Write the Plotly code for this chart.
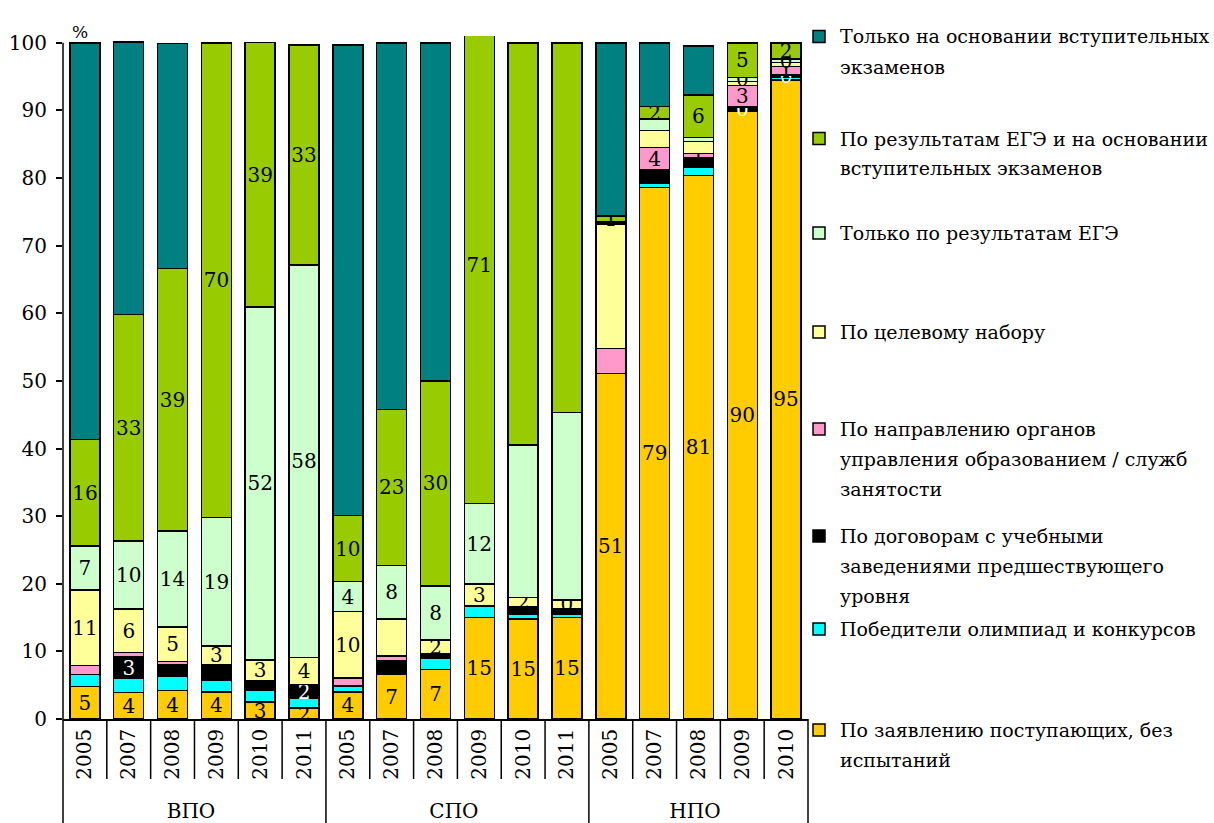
import plotly.graph_objects as go

# категории: уровень образования и год
groups = ["ВПО"] * 6 + ["СПО"] * 6 + ["НПО"] * 5
years = ["2005", "2007", "2008", "2009", "2010", "2011",
         "2005", "2007", "2008", "2009", "2010", "2011",
         "2005", "2007", "2008", "2009", "2010"]

# доли поступивших, % (снизу вверх)
bez_ispytaniy = [4.8, 3.9, 4.2, 4.0, 2.5, 1.6, 4.0, 6.6, 7.3, 15.0, 14.8, 15.0, 51.1, 78.6, 80.4, 89.8, 94.5]
olimpiady = [1.8, 2.1, 2.1, 1.7, 1.75, 1.4, 0.9, 0.0, 1.7, 1.7, 0.7, 0.5, 0.0, 0.6, 1.2, 0.0, 0.4]
dogovory = [0.0, 3.2, 1.7, 2.3, 1.4, 2.1, 0.0, 2.0, 0.7, 0.0, 1.1, 0.8, 0.0, 2.0, 1.4, 0.7, 0.3]
napravlenie = [1.3, 0.6, 0.5, 0.0, 0.0, 0.0, 1.2, 0.7, 0.0, 0.0, 0.0, 0.0, 3.7, 3.3, 0.6, 3.2, 1.3]
celevoy = [11.2, 6.5, 5.1, 2.8, 3.1, 4.0, 9.8, 5.5, 2.0, 3.3, 1.4, 1.3, 18.4, 2.5, 1.8, 0.6, 0.6]
tolko_ege = [6.5, 10.0, 14.2, 19.0, 52.2, 58.0, 4.4, 7.9, 8.0, 11.9, 22.5, 27.7, 0.3, 1.7, 0.6, 0.6, 0.5]
ege_i_ekzameny = [15.7, 33.5, 38.8, 70.2, 39.1, 32.6, 9.8, 23.1, 30.3, 70.5, 59.5, 54.7, 0.9, 1.9, 6.3, 5.1, 2.4]
tolko_ekzameny = [58.7, 40.3, 33.3, 0.0, 0.0, 0.0, 69.6, 54.2, 50.0, 0.0, 0.0, 0.0, 25.6, 9.4, 7.2, 0.0, 0.0]

# подписи значений (как на исходной диаграмме)
lbl_bez = ["5", "4", "4", "4", "3", "2", "4", "7", "7", "15", "15", "15", "51", "79", "81", "90", "95"]
lbl_olimp = [""] * 17
lbl_dogov = ["", "3", "", "", "", "2", "", "", "", "", "", "", "", "", "", "0", "0"]
lbl_naprav = ["", "", "", "", "", "", "", "", "", "", "", "", "", "4", "1", "3", "1"]
lbl_celev = ["11", "6", "5", "3", "3", "4", "10", "", "2", "3", "2", "0", "", "", "", "", ""]
lbl_ege = ["7", "10", "14", "19", "52", "58", "4", "8", "8", "12", "", "", "", "", "", "0", "0"]
lbl_ege_ekz = ["16", "33", "39", "70", "39", "33", "10", "23", "30", "71", "", "", "1", "2", "6", "5", "2"]
lbl_ekz = [""] * 17

series = [
    ("По заявлению поступающих, без испытаний", bez_ispytaniy, lbl_bez, "#FFCC00", "black",
     ["По заявлению поступающих, без", "испытаний"]),
    ("Победители олимпиад и конкурсов", olimpiady, lbl_olimp, "#00FFFF", "black",
     ["Победители олимпиад и конкурсов"]),
    ("По договорам с учебными заведениями предшествующего уровня", dogovory, lbl_dogov, "#000000", "white",
     ["По договорам с учебными", "заведениями предшествующего", "уровня"]),
    ("По направлению органов управления образованием / служб занятости", napravlenie, lbl_naprav, "#FF99CC", "black",
     ["По направлению органов", "управления образованием / служб", "занятости"]),
    ("По целевому набору", celevoy, lbl_celev, "#FFFF99", "black",
     ["По целевому набору"]),
    ("Только по результатам ЕГЭ", tolko_ege, lbl_ege, "#CCFFCC", "black",
     ["Только по результатам ЕГЭ"]),
    ("По результатам ЕГЭ и на основании вступительных экзаменов", ege_i_ekzameny, lbl_ege_ekz, "#99CC00", "black",
     ["По результатам ЕГЭ и на основании", "вступительных экзаменов"]),
    ("Только на основании вступительных экзаменов", tolko_ekzameny, lbl_ekz, "#008080", "black",
     ["Только на основании вступительных", "экзаменов"]),
]

FONT = "DejaVu Serif"
W, H = 1214, 823
ML, MR, MT, MB = 63, 406, 36, 104
PW, PH = W - ML - MR, H - MT - MB


def px(x):
    return (x - ML) / PW


def py(y):
    return (H - MB - y) / PH


fig = go.Figure()
for name, vals, lbls, color, tcolor, _ in series:
    fig.add_trace(go.Bar(
        x=[groups, years], y=vals, name=name,
        marker=dict(color=color, line=dict(color="black", width=1.5)),
        text=lbls, textposition="inside", insidetextanchor="middle",
        textangle=0, textfont=dict(family=FONT, size=20, color=tcolor),
        showlegend=False,
    ))

shapes = []
# сетка подписей оси X
n = len(years)
for i in range(n + 1):
    edge = i in (0, 6, 12, n)
    shapes.append(dict(type="line", xref="paper", yref="paper",
                       x0=i / n, x1=i / n, y0=0, y1=py(823) if edge else py(779),
                       line=dict(color="black", width=1.5)))
# ось Y до 100
shapes.append(dict(type="line", xref="paper", yref="y", x0=0, x1=0, y0=0, y1=100,
                   line=dict(color="black", width=1.5)))

annotations = [dict(text="%", xref="paper", yref="paper", x=px(70), y=py(20),
                    showarrow=False, font=dict(family=FONT, size=17, color="black"))]

# легенда справа
item_y = [730, 629, 536, 429, 332, 233, 138.5, 36.5]
for (name, vals, lbls, color, tcolor, lines), yc in zip(series, item_y):
    shapes.append(dict(type="rect", xref="paper", yref="paper",
                       x0=px(813), x1=px(825), y0=py(yc + 6), y1=py(yc - 6),
                       fillcolor=color, line=dict(color="black", width=1.5)))
    for k, line in enumerate(lines):
        annotations.append(dict(text=line, xref="paper", yref="paper",
                                x=px(838), y=py(yc + 30 * k), xanchor="left", yanchor="middle",
                                showarrow=False, font=dict(family=FONT, size=19, color="black")))

fig.update_layout(
    barmode="stack", bargap=0.315,
    width=W, height=H,
    margin=dict(l=ML, r=MR, t=MT, b=MB, autoexpand=False),
    plot_bgcolor="white", paper_bgcolor="white",
    font=dict(family=FONT, size=20, color="black"),
    uniformtext=dict(mode="show", minsize=20),
    shapes=shapes, annotations=annotations,
)
fig.update_xaxes(showline=True, linecolor="black", linewidth=1.5, showdividers=False,
                 ticks="outside", ticklen=12, tickcolor="rgba(0,0,0,0)",
                 tickangle=-90, tickfont=dict(family=FONT, size=20, color="black"),
                 showgrid=False, automargin=False)
fig.update_yaxes(range=[0, 101], tickvals=list(range(0, 101, 10)), showline=False,
                 ticks="outside", ticklen=6, tickwidth=1.5, tickcolor="black",
                 ticklabelstandoff=5, tickfont=dict(family=FONT, size=20, color="black"),
                 showgrid=False, zeroline=False, automargin=False)

# страница без полей, чтобы график стоял в углу окна
fig.write_html("out.html", config={"displayModeBar": False},
               post_script="document.body.style.margin = '0';")
